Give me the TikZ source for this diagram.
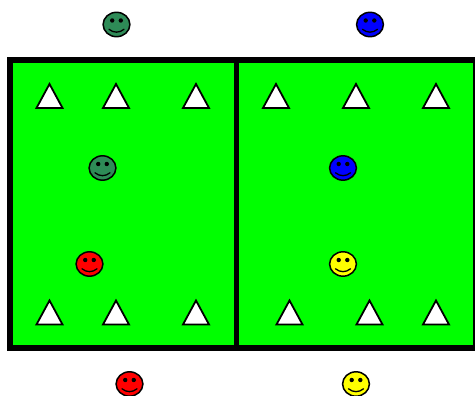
\documentclass[tikz,border=0pt]{standalone}
\definecolor{smgreen}{RGB}{46,139,87}
\definecolor{fieldgreen}{RGB}{0,255,0}
\definecolor{smyellow}{RGB}{255,255,0}
\definecolor{smred}{RGB}{255,0,0}
\definecolor{smblue}{RGB}{0,0,255}
\tikzset{
  fieldline/.style={draw=black,line width=6pt,fill=fieldgreen,line join=miter},
  divider/.style={draw=black,line width=5pt},
  cone/.style={draw=black,fill=white,line width=1.8pt,line join=miter},
  face/.style={draw=black,fill=#1,line width=1.5pt},
  facefeature/.style={fill=black},
  mouth/.style={draw=black,line width=1.3pt,line cap=round},
  pics/smiley/.style={code={
    \path[face=#1] (0,0) ellipse [x radius=13.4, y radius=12.2];
    \fill[facefeature] (-4.3,-4) circle [radius=2.2];
    \fill[facefeature] (4.3,-4) circle [radius=2.2];
    \path[mouth] (-7.5,4.8) .. controls (-3,8.6) and (3,8.6) .. (7.5,4.8);
  }},
  pics/conemark/.style={code={
    \path[cone] (0,-12) -- (13,12) -- (-13,12) -- cycle;
  }}
}
\begin{document}
\begin{tikzpicture}[x=1pt,y=-1pt]
\useasboundingbox (0,0) rectangle (475,396);
\clip (0,0) rectangle (475,396);
\path[fieldline] (9.7,59.7) rectangle (475.8,348.2);
\coordinate (divtop) at (236.5,59.7);
\coordinate (divbot) at (236.5,348.2);
\draw[divider] (divtop) -- (divbot);
\foreach \x in {49.5,116,196,276,356,436} \pic at (\x,96) {conemark};
\foreach \x in {49.5,116,196,289.5,369.5,436} \pic at (\x,312.5) {conemark};
\pic at (116.5,24.5) {smiley=smgreen};
\pic at (370,24.5) {smiley=smblue};
\pic at (102.5,168) {smiley=smgreen};
\pic at (343,168) {smiley=smblue};
\pic at (89.5,264) {smiley=smred};
\pic at (343,264) {smiley=smyellow};
\pic at (129.5,384) {smiley=smred};
\pic at (356,384) {smiley=smyellow};
\end{tikzpicture}
\end{document}
